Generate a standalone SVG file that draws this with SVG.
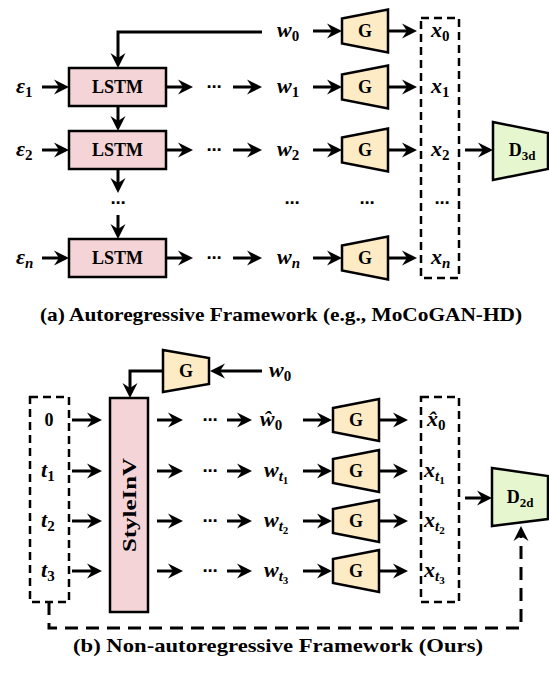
<svg xmlns="http://www.w3.org/2000/svg" width="549" height="677" viewBox="0 0 549 677">
<style>
.ln{stroke:#000;stroke-width:3;fill:none}
.dash{stroke:#000;stroke-width:2.5;fill:none;stroke-dasharray:8 5}
.fb{stroke:#000;stroke-width:3;fill:none;stroke-dasharray:13 8}
.lstm{fill:#f5d4d8;stroke:#000;stroke-width:2.5}
.g{fill:#fdebc6;stroke:#000;stroke-width:2.5}
.d{fill:#e6f7cf;stroke:#000;stroke-width:2.5}
.lbl{font-family:"Liberation Serif",serif;font-weight:bold;font-size:18px;fill:#000}
.m{font-family:"Liberation Serif",serif;font-weight:bold;font-style:italic;font-size:22px;fill:#000}
.up{font-style:normal}
.dots{font-family:"DejaVu Sans",sans-serif;font-weight:bold;font-size:15px;fill:#000}
.cap{font-family:"Liberation Serif",serif;font-weight:bold;font-size:19px;fill:#000}
</style>
<defs>
<marker id="ah" markerUnits="userSpaceOnUse" markerWidth="20" markerHeight="20" viewBox="-16 -10 20 20" refX="-4" refY="0" orient="auto">
<path d="M0,0 L-15,-7.5 L-10,0 L-15,7.5 Z" fill="#000"/>
</marker>
</defs>

<!-- (a) nodes -->
<g id="lstm1"><rect class="lstm" x="69" y="68" width="97" height="38"/><text class="lbl" x="117.5" y="93" text-anchor="middle">LSTM</text></g>
<g id="lstm2"><rect class="lstm" x="69" y="131" width="97" height="38"/><text class="lbl" x="117.5" y="156" text-anchor="middle">LSTM</text></g>
<g id="lstmn"><rect class="lstm" x="69" y="239" width="97" height="38"/><text class="lbl" x="117.5" y="264" text-anchor="middle">LSTM</text></g>

<g id="eps1"><text class="m" x="16" y="93">ε<tspan class="up" font-size="15" dy="4">1</tspan></text></g>
<g id="eps2"><text class="m" x="16" y="156">ε<tspan class="up" font-size="15" dy="4">2</tspan></text></g>
<g id="epsn"><text class="m" x="16" y="264">ε<tspan font-size="15" dy="4">n</tspan></text></g>

<g id="wa0"><text class="m" x="277" y="37">w<tspan class="up" font-size="15" dy="4">0</tspan></text></g>
<g id="wa1"><text class="m" x="277" y="93">w<tspan class="up" font-size="15" dy="4">1</tspan></text></g>
<g id="wa2"><text class="m" x="277" y="156">w<tspan class="up" font-size="15" dy="4">2</tspan></text></g>
<g id="wan"><text class="m" x="277" y="264">w<tspan font-size="15" dy="4">n</tspan></text></g>

<g id="ga0"><polygon class="g" points="342,18.5 388,9.5 388,52.5 342,43.5"/><text class="lbl" x="365" y="37" text-anchor="middle">G</text></g>
<g id="ga1"><polygon class="g" points="342,74.5 388,65.5 388,108.5 342,99.5"/><text class="lbl" x="365" y="93" text-anchor="middle">G</text></g>
<g id="ga2"><polygon class="g" points="342,137.5 388,128.5 388,171.5 342,162.5"/><text class="lbl" x="365" y="156" text-anchor="middle">G</text></g>
<g id="gan"><polygon class="g" points="342,245.5 388,236.5 388,279.5 342,270.5"/><text class="lbl" x="365" y="264" text-anchor="middle">G</text></g>

<g id="xa">
<rect class="dash" x="421" y="18" width="38" height="260"/>
<text class="m" x="431" y="37">x<tspan class="up" font-size="15" dy="4">0</tspan></text>
<text class="m" x="431" y="93">x<tspan class="up" font-size="15" dy="4">1</tspan></text>
<text class="m" x="431" y="156">x<tspan class="up" font-size="15" dy="4">2</tspan></text>
<text class="dots" x="442" y="208" text-anchor="middle">⋯</text>
<text class="m" x="431" y="264">x<tspan font-size="15" dy="4">n</tspan></text>
</g>

<g id="d3d"><polygon class="d" points="493,122 548,133 548,169 493,180"/><text class="lbl" x="522" y="156" text-anchor="middle">D<tspan font-size="13" dy="4">3d</tspan></text></g>

<g id="dotsa">
<text class="dots" x="214" y="92" text-anchor="middle">⋯</text>
<text class="dots" x="214" y="155" text-anchor="middle">⋯</text>
<text class="dots" x="214" y="263" text-anchor="middle">⋯</text>
<text class="dots" x="118" y="208" text-anchor="middle">⋯</text>
<text class="dots" x="292" y="208" text-anchor="middle">⋯</text>
<text class="dots" x="367" y="208" text-anchor="middle">⋯</text>
</g>

<text class="cap" x="281" y="321" text-anchor="middle" textLength="482" lengthAdjust="spacingAndGlyphs">(a) Autoregressive Framework (e.g., MoCoGAN-HD)</text>

<!-- (b) nodes -->
<g id="gtop"><polygon class="g" points="163,350 209,358 209,384 163,392"/><text class="lbl" x="186" y="377" text-anchor="middle">G</text></g>
<g id="wb0top"><text class="m" x="269" y="377">w<tspan class="up" font-size="15" dy="4">0</tspan></text></g>

<g id="styleinv"><rect class="lstm" x="110" y="398" width="38" height="214"/><text class="lbl" x="0" y="0" transform="translate(136,505) rotate(-90)" text-anchor="middle" textLength="94" lengthAdjust="spacingAndGlyphs">StyleInV</text></g>

<g id="tbox">
<rect class="dash" x="30" y="397" width="39" height="205"/>
<text class="lbl" x="49" y="426" text-anchor="middle">0</text>
<text class="m" x="41" y="477">t<tspan class="up" font-size="15" dy="4">1</tspan></text>
<text class="m" x="41" y="527">t<tspan class="up" font-size="15" dy="4">2</tspan></text>
<text class="m" x="41" y="577">t<tspan class="up" font-size="15" dy="4">3</tspan></text>
</g>

<g id="dotsb">
<text class="dots" x="210" y="425" text-anchor="middle">⋯</text>
<text class="dots" x="210" y="476" text-anchor="middle">⋯</text>
<text class="dots" x="210" y="526" text-anchor="middle">⋯</text>
<text class="dots" x="210" y="576" text-anchor="middle">⋯</text>
</g>

<g id="wb0"><text class="m" x="260" y="426">ŵ<tspan class="up" font-size="15" dy="4">0</tspan></text></g>
<g id="wb1"><text class="m" x="264" y="477">w<tspan font-size="15" dy="4">t</tspan><tspan class="up" font-size="11" dy="3">1</tspan></text></g>
<g id="wb2"><text class="m" x="264" y="527">w<tspan font-size="15" dy="4">t</tspan><tspan class="up" font-size="11" dy="3">2</tspan></text></g>
<g id="wb3"><text class="m" x="264" y="577">w<tspan font-size="15" dy="4">t</tspan><tspan class="up" font-size="11" dy="3">3</tspan></text></g>

<g id="gb0"><polygon class="g" points="333,408 379,399 379,441 333,432"/><text class="lbl" x="356" y="426" text-anchor="middle">G</text></g>
<g id="gb1"><polygon class="g" points="333,459 379,450 379,492 333,483"/><text class="lbl" x="356" y="477" text-anchor="middle">G</text></g>
<g id="gb2"><polygon class="g" points="333,509 379,500 379,542 333,533"/><text class="lbl" x="356" y="527" text-anchor="middle">G</text></g>
<g id="gb3"><polygon class="g" points="333,559 379,550 379,592 333,583"/><text class="lbl" x="356" y="577" text-anchor="middle">G</text></g>

<g id="xb">
<rect class="dash" x="421" y="397" width="38" height="205"/>
<text class="m" x="427" y="426">x̂<tspan class="up" font-size="15" dy="4">0</tspan></text>
<text class="m" x="424" y="477">x<tspan font-size="15" dy="4">t</tspan><tspan class="up" font-size="11" dy="3">1</tspan></text>
<text class="m" x="424" y="527">x<tspan font-size="15" dy="4">t</tspan><tspan class="up" font-size="11" dy="3">2</tspan></text>
<text class="m" x="424" y="577">x<tspan font-size="15" dy="4">t</tspan><tspan class="up" font-size="11" dy="3">3</tspan></text>
</g>

<g id="d2d"><polygon class="d" points="492,468 548,476 548,519 492,526"/><text class="lbl" x="520" y="503" text-anchor="middle">D<tspan font-size="13" dy="4">2d</tspan></text></g>

<text class="cap" x="278" y="652" text-anchor="middle" textLength="410" lengthAdjust="spacingAndGlyphs">(b) Non-autoregressive Framework (Ours)</text>

<!-- connectors -->
<g id="connectors" marker-end="url(#ah)">
<path class="ln" d="M262,32 H118 V64"/>
<path class="ln" d="M118,106 V127"/>
<path class="ln" d="M118,170 V189"/>
<path class="ln" d="M118,215 V235"/>
<path class="ln" d="M42,87 H65"/>
<path class="ln" d="M42,150 H65"/>
<path class="ln" d="M42,258 H65"/>
<path class="ln" d="M166,87 H189"/>
<path class="ln" d="M166,150 H189"/>
<path class="ln" d="M166,258 H189"/>
<path class="ln" d="M233,87 H258"/>
<path class="ln" d="M233,150 H258"/>
<path class="ln" d="M233,258 H258"/>
<path class="ln" d="M313,31 H338"/>
<path class="ln" d="M313,87 H338"/>
<path class="ln" d="M313,150 H338"/>
<path class="ln" d="M313,258 H338"/>
<path class="ln" d="M388,31 H413"/>
<path class="ln" d="M388,87 H413"/>
<path class="ln" d="M388,150 H413"/>
<path class="ln" d="M388,258 H413"/>
<path class="ln" d="M465,150 H489"/>

<path class="ln" d="M262,371 H214"/>
<path class="ln" d="M163,371 H130 V394"/>
<path class="ln" d="M72,420 H98"/>
<path class="ln" d="M72,471 H98"/>
<path class="ln" d="M72,521 H98"/>
<path class="ln" d="M72,571 H98"/>
<path class="ln" d="M157,420 H179"/>
<path class="ln" d="M157,471 H179"/>
<path class="ln" d="M157,521 H179"/>
<path class="ln" d="M157,571 H179"/>
<path class="ln" d="M227,420 H248"/>
<path class="ln" d="M227,471 H248"/>
<path class="ln" d="M227,521 H248"/>
<path class="ln" d="M227,571 H248"/>
<path class="ln" d="M303,420 H328"/>
<path class="ln" d="M303,471 H328"/>
<path class="ln" d="M303,521 H328"/>
<path class="ln" d="M303,571 H328"/>
<path class="ln" d="M379,420 H404"/>
<path class="ln" d="M379,471 H404"/>
<path class="ln" d="M379,521 H404"/>
<path class="ln" d="M379,571 H404"/>
<path class="ln" d="M465,498 H488"/>
<path class="fb" d="M49,602 V628 H521 V530"/>
</g>
</svg>
